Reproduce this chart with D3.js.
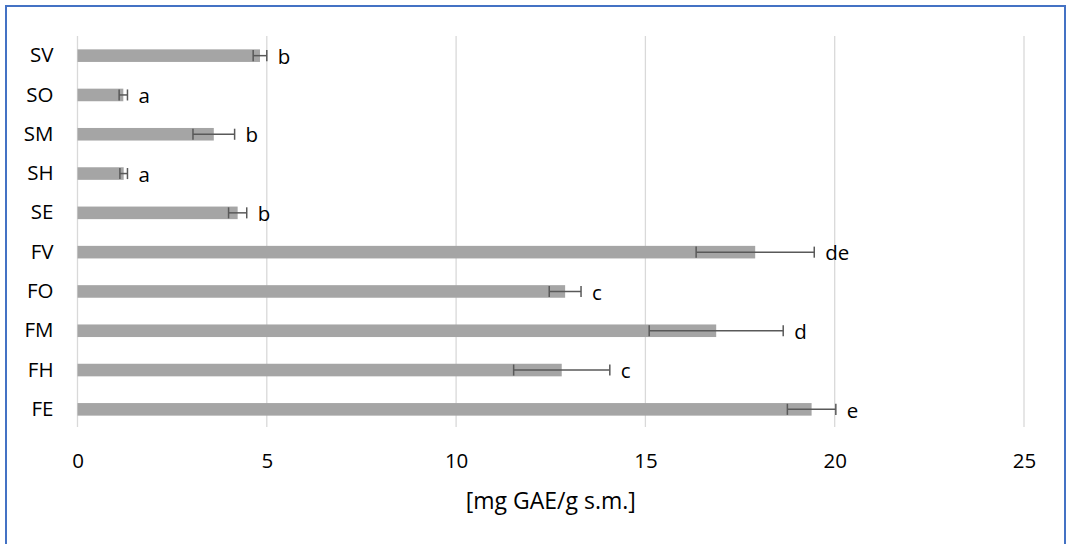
<!DOCTYPE html>
<html>
<head>
<meta charset="utf-8">
<script src="https://cdn.jsdelivr.net/npm/d3@7"></script>
<style>
  body { margin: 0; background: #fff; }
  text { font-family: "Open Sans", "Noto Sans", sans-serif; fill: #000; }
</style>
</head>
<body>
<script>
///////////////////   Data   /////////////////

var categories = ["SV", "SO", "SM", "SH", "SE", "FV", "FO", "FM", "FH", "FE"];
var means      = [4.82, 1.21, 3.6, 1.22, 4.23, 17.9, 12.88, 16.87, 12.79, 19.39];
var errors     = [0.18, 0.11, 0.55, 0.1, 0.24, 1.56, 0.42, 1.77, 1.27, 0.64];
var letters    = ["b", "a", "b", "a", "b", "de", "c", "d", "c", "e"];
var xTicks     = [0, 5, 10, 15, 20, 25];
var axisTitle  = "[mg GAE/g s.m.]";

///////////////////   Layout   /////////////////

var width = 1069, height = 544,
    plotLeft = 77.5, plotRight = 1024,
    plotTop = 36, plotBottom = 429,
    labelGap = 11,
    fontSize = "20.5px";

var colors = {
    "bar": "#a5a5a5",
    "error": "#595959",
    "grid": "#d9d9d9",
    "border": "#4472c4"
};

var svg = d3.select("body").append("svg")
    .attr("width", width)
    .attr("height", height);

// outer chart border (bottom edge runs off the picture)
svg.append("rect")
    .attr("x", 6).attr("y", 6)
    .attr("width", 1059).attr("height", 545)
    .attr("fill", "none")
    .attr("stroke", colors.border)
    .attr("stroke-width", 2);

var x = d3.scaleLinear().domain([0, 25]).range([plotLeft, plotRight]);
var y = d3.scaleBand().domain(categories).range([plotTop, plotBottom])
    .paddingInner(0.68).paddingOuter(0.34);

// gridlines
svg.append("g").selectAll("line")
    .data(xTicks)
  .enter().append("line")
    .attr("x1", d => x(d)).attr("x2", d => x(d))
    .attr("y1", plotTop).attr("y2", plotBottom - 2)
    .attr("stroke", colors.grid)
    .attr("stroke-width", 1.3);

// x axis tick labels
var xAxis = svg.append("g")
    .attr("transform", "translate(0," + (plotBottom - 2) + ")")
    .call(d3.axisBottom(x).tickValues(xTicks).tickSize(0).tickPadding(26));
xAxis.select(".domain").remove();
xAxis.selectAll("text")
    .attr("font-family", null)
    .style("font-size", fontSize);

// category labels
var yAxis = svg.append("g")
    .attr("transform", "translate(" + plotLeft + ",0)")
    .call(d3.axisLeft(y).tickSize(0).tickPadding(24));
yAxis.select(".domain").remove();
yAxis.selectAll("text")
    .attr("font-family", null)
    .style("font-size", fontSize);

// bars
svg.append("g").selectAll("rect")
    .data(categories)
  .enter().append("rect")
    .attr("x", x(0))
    .attr("y", d => y(d))
    .attr("width", (d, i) => x(means[i]) - x(0))
    .attr("height", y.bandwidth())
    .attr("fill", colors.bar);

// error bars
var capH = y.bandwidth() - 1.5;
var eb = svg.append("g")
    .attr("stroke", colors.error)
    .attr("stroke-width", 1.5)
    .selectAll("g")
    .data(categories)
  .enter().append("g")
    .attr("transform", d => "translate(0," + (y(d) + y.bandwidth() / 2) + ")");

eb.append("line")
    .attr("x1", (d, i) => x(means[i] - errors[i]))
    .attr("x2", (d, i) => x(means[i] + errors[i]))
    .attr("y1", 0).attr("y2", 0);
eb.append("line")
    .attr("x1", (d, i) => x(means[i] - errors[i]))
    .attr("x2", (d, i) => x(means[i] - errors[i]))
    .attr("y1", -capH / 2).attr("y2", capH / 2);
eb.append("line")
    .attr("x1", (d, i) => x(means[i] + errors[i]))
    .attr("x2", (d, i) => x(means[i] + errors[i]))
    .attr("y1", -capH / 2).attr("y2", capH / 2);

// significance letters
svg.append("g").selectAll("text")
    .data(categories)
  .enter().append("text")
    .attr("x", (d, i) => x(means[i] + errors[i]) + labelGap)
    .attr("y", d => y(d) + y.bandwidth() / 2 + 1)
    .attr("dy", "0.35em")
    .style("font-size", fontSize)
    .text((d, i) => letters[i]);

// axis title
svg.append("text")
    .attr("x", (plotLeft + plotRight) / 2)
    .attr("y", 509)
    .attr("text-anchor", "middle")
    .style("font-size", "23px")
    .text(axisTitle);
</script>
</body>
</html>
